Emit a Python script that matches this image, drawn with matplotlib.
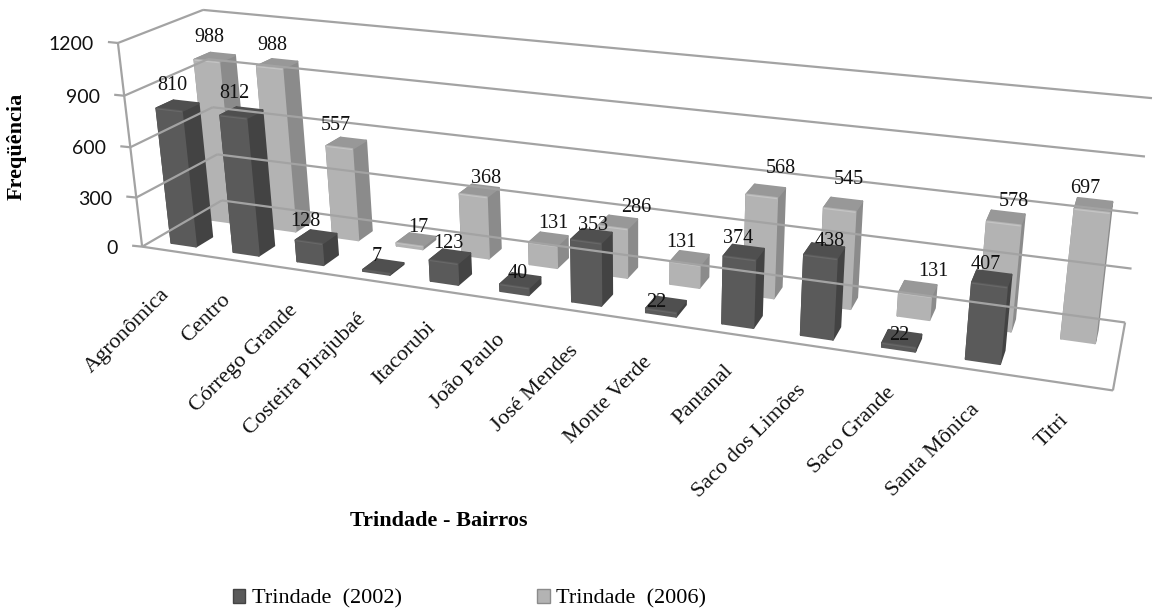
import numpy as np
import matplotlib
matplotlib.use("Agg")
import matplotlib.pyplot as plt
from matplotlib.patches import Polygon, Patch

categories = ["Agronômica", "Centro", "Córrego Grande", "Costeira Pirajubaé", "Itacorubi",
              "João Paulo", "José Mendes", "Monte Verde", "Pantanal", "Saco dos Limões",
              "Saco Grande", "Santa Mônica", "Titri"]
trindade_2002 = [810, 812, 128, 7, 123, 40, 353, 22, 374, 438, 22, 407, None]
trindade_2006 = [988, 988, 557, 17, 368, 131, 286, 131, 568, 545, 131, 578, 697]
y_ticks = [0, 300, 600, 900, 1200]
Y_MAX = 1200

# label placement (pixels): offset from the bar's front-top centre
dark_dx = [3, 1, -3, 0, 5, 3, 7, -5, -1, 9, 1, -4, 0]
dark_gap = [24, 23, 20, 15, 18, 13, 16, 8, 20, 15, 10, 20, 0]
light_dx = [3, 3, -3, 9, 13, 11, 23, -4, 19, 9, 18, 10, -7]
light_gap = [23, 22, 22, 17, 17, 21, 20, 21, 28, 30, 23, 22, 22]
# end of each rotated category label (pixels)
cat_label_x = [167, 228, 295, 363, 433, 502, 575, 649, 730, 803, 893, 977, 1066]
cat_label_y = [292, 297, 308, 317, 325, 337, 348, 360, 368, 388, 390, 407, 417]

W, H = 1154, 612
SERIF = "Liberation Serif"

# camera: box corners (category fraction, depth, value fraction) -> pixels
box = [((0, 0, 0), (142, 247)), ((1, 0, 0), (1113, 390)), ((0, 1, 0), (222, 200)),
       ((1, 1, 0), (1125, 323)), ((0, 0, 1), (118, 43)), ((0, 1, 1), (203, 10)),
       ((1, 1, 1), (1152, 98))]
A = []
for (X, Y, Z), (u, v) in box:
    A.append([X, Y, Z, 1, 0, 0, 0, 0, -u*X, -u*Y, -u*Z, -u])
    A.append([0, 0, 0, 0, X, Y, Z, 1, -v*X, -v*Y, -v*Z, -v])
P = np.linalg.svd(np.array(A, float))[2][-1].reshape(3, 4)

def proj(c, d, val):
    """c in category units, d depth 0-1, val in data units"""
    p = P @ np.array([c / len(categories), d, val / Y_MAX, 1.0])
    return p[0] / p[2], p[1] / p[2]

fig = plt.figure(figsize=(W / 100, H / 100), dpi=100)
ax = fig.add_axes([0, 0, 1, 1])
ax.set_xlim(0, W)
ax.set_ylim(H, 0)
ax.axis("off")

GRID = "#a3a3a3"
LW = 1.6
def line(a, b):
    ax.plot([a[0], b[0]], [a[1], b[1]], color=GRID, lw=LW, solid_capstyle="butt")

n = len(categories)
for t in y_ticks:
    line(proj(0, 0, t), proj(0, 1, t))
    line(proj(0, 1, t), proj(n, 1, t))
    a = proj(0, 0, t)
    line((a[0] - 10, a[1] - 1), a)
    ax.text(a[0] - 24, a[1] + 1.5, str(t), ha="right", va="center", family="Lato", fontsize=14, color="#111111")
line(proj(0, 0, 0), proj(0, 0, Y_MAX))
line(proj(0, 0, 0), proj(n, 0, 0))
line(proj(n, 0, 0), proj(n, 1, 0))

BAR_W = 0.40
DEPTHS = {"dark": (0.13, 0.33), "light": (0.62, 0.82)}
STY = {"dark": dict(front="#5a5a5a", side="#434343", top="#4f4f4f", hi="#686868"),
       "light": dict(front="#b3b3b3", side="#8b8b8b", top="#989898", hi="#c4c4c4")}

def bar(i, val, kind, dx, gap):
    s = STY[kind]
    d0, d1 = DEPTHS[kind]
    c0, c1 = i + 0.5 - BAR_W / 2, i + 0.5 + BAR_W / 2
    faces = [
        ([(c0, d0, 0), (c0, d1, 0), (c0, d1, val), (c0, d0, val)], s["side"]),
        ([(c1, d0, 0), (c1, d1, 0), (c1, d1, val), (c1, d0, val)], s["side"]),
        ([(c0, d0, val), (c1, d0, val), (c1, d1, val), (c0, d1, val)], s["top"]),
        ([(c0, d0, 0), (c1, d0, 0), (c1, d0, val), (c0, d0, val)], s["front"]),
    ]
    for pts, col in faces:
        ax.add_patch(Polygon([proj(*p) for p in pts], closed=True, fc=col, ec=col, lw=1.4, joinstyle="round"))
    h = min(val, 22)
    strip = [(c0, d0, val), (c1, d0, val), (c1, d0, val - h * 0.3), (c0, d0, val - h * 0.3)]
    ax.add_patch(Polygon([proj(*p) for p in strip], closed=True, fc=s["hi"], ec="none"))
    x, y = proj(i + 0.5, d0, val)
    ax.text(x + dx, y - gap, str(val), ha="center", va="center", family=SERIF, fontsize=14.5, color="#111111")

for i, v in enumerate(trindade_2006):
    bar(i, v, "light", light_dx[i], light_gap[i])
for i, v in enumerate(trindade_2002):
    if v is not None:
        bar(i, v, "dark", dark_dx[i], dark_gap[i])

for name, x, y in zip(categories, cat_label_x, cat_label_y):
    ax.text(x, y, name, rotation=45, rotation_mode="anchor", ha="right", va="center",
            family=SERIF, fontsize=16, color="#111111")

ax.text(17, 146, "Freqüência", rotation=90, ha="center", va="center", family=SERIF, fontsize=16, fontweight="bold", color="black")
ax.text(439, 521, "Trindade - Bairros", ha="center", va="center", family=SERIF, fontsize=16, fontweight="bold", color="black")

handles = [Patch(fc=STY["dark"]["front"], ec=STY["dark"]["side"], label="Trindade  (2002)"),
           Patch(fc=STY["light"]["front"], ec=STY["light"]["side"], label="Trindade  (2006)")]
ax.legend(handles=handles, loc="center left", bbox_to_anchor=(233 / W, 1 - 599 / H), ncol=2, frameon=False,
          prop={"family": SERIF, "size": 16}, handlelength=0.55, handleheight=0.55, handletextpad=0.3,
          columnspacing=6.1, borderpad=0, borderaxespad=0)

fig.savefig("out.png", dpi=100)
